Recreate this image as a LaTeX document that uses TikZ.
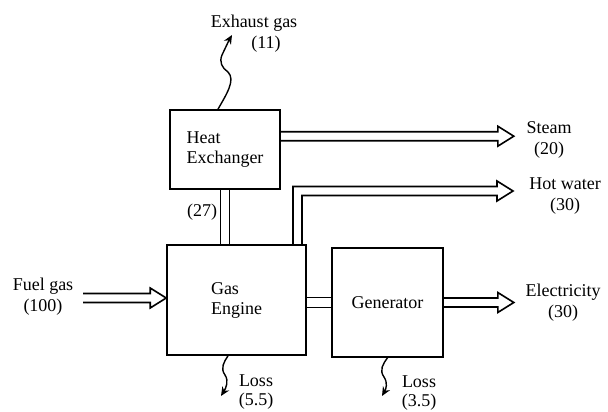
\documentclass[tikz,border=0pt]{standalone}
\usepackage{fontspec}
\setmainfont{Liberation Serif}
\usetikzlibrary{arrows.meta,calc}
\newcommand\myharrow[2]{\draw[pipe] let \p1=(#1),\p2=(#2) in (\x1,\y2+4.5pt) -- (\x2-16pt,\y2+4.5pt) -- (\x2-16pt,\y2+10pt) -- (\x2,\y2) -- (\x2-16pt,\y2-10pt) -- (\x2-16pt,\y2-4.5pt) -- (\x1,\y2-4.5pt);}
\begin{document}
\begin{tikzpicture}[x=1pt,y=-1pt,
  box/.style={draw, line width=1.6pt, inner sep=0pt, font=\fontsize{18}{20}\selectfont},
  lbl/.style={align=center, font=\fontsize{18}{21}\selectfont, inner sep=0pt},
  losslbl/.style={align=center, font=\fontsize{18}{19}\selectfont, inner sep=0pt},
  wavy/.style={line width=1.4pt, -{Stealth[length=9pt,width=8pt]}},
  pipe/.style={line width=1.6pt, line join=miter}]
\useasboundingbox (0,0) rectangle (608,412);

% boxes
\node[box, minimum width=110pt, minimum height=79pt, align=left] (hx) at (225,149.5) {Heat\\Exchanger};
\node[box, minimum width=139pt, minimum height=110pt, align=left] (ge) at (236.5,300) {Gas\\Engine};
\node[box, minimum width=111pt, minimum height=109pt] (gen) at (387.5,302.5) {Generator};

% labels
\node[lbl] (exl) at (254,34) {Exhaust gas\\\hspace*{24pt}(11)};
\node[lbl] (stl) at (549,140) {Steam\\(20)};
\node[lbl] (hwl) at (565,196) {Hot water\\(30)};
\node[lbl] (ell) at (563,303) {Electricity\\(30)};
\node[lbl] (ful) at (43,297) {Fuel gas\\(100)};
\node[losslbl] (l1) at (256,392) {Loss\\(5.5)};
\node[losslbl] (l2) at (419,393) {Loss\\(3.5)};
\node[lbl] (n27) at (202,212) {(27)};

% pipe HX - GE (27)
\coordinate (p1) at ($(hx.south)+(-4.5,0)$);
\coordinate (p2) at ($(hx.south)+(4.5,0)$);
\draw[pipe] (p1) -- (p1 |- ge.north);
\draw[pipe] (p2) -- (p2 |- ge.north);

% steam
\coordinate (st0) at ($(hx.north east)+(0,27)$);
\coordinate (sttip) at ($(st0)+(233,0)$);
\myharrow{st0}{sttip}

% hot water
\coordinate (hw0) at ($(ge.north)+(61,0)$);
\coordinate (hwtip) at (513,191);
\draw[pipe] let \p1=(hw0),\p2=(hwtip) in
  (\x1-4.5pt,\y1) -- (\x1-4.5pt,\y2+4.5pt) -- (\x2-16pt,\y2+4.5pt) -- (\x2-16pt,\y2+10pt) -- (\x2,\y2)
  -- (\x2-16pt,\y2-10pt) -- (\x2-16pt,\y2-4.5pt) -- (\x1+4.5pt,\y2-4.5pt) -- (\x1+4.5pt,\y1);

% shaft
\draw[pipe] let \p1=(ge.east),\p2=(gen.west) in
  (\x1,\y2+5pt) -- (\x2,\y2+5pt) (\x1,\y2-5pt) -- (\x2,\y2-5pt);

% electricity
\coordinate (eltip) at ($(gen.east)+(70,0)$);
\myharrow{gen.east}{eltip}

% fuel gas
\coordinate (fu0) at (83,298);
\myharrow{fu0}{ge.west |- fu0}

% exhaust
\coordinate (ex0) at ($(hx.north)+(-7,0)$);
\coordinate (extip) at (232,35);
\draw[wavy] (ex0) .. controls (226,95) and (236,80) .. (228,72) .. controls (222,68) and (219,62) .. (222,55) .. controls (225,47) .. (extip);

% losses
\coordinate (ls1) at ($(ge.south)+(-8.5,0)$);
\coordinate (lt1) at (221,396);
\draw[wavy] (ls1) .. controls (224,362) and (220,368) .. (225,375) .. controls (229,381) and (226,388) .. (lt1);
\coordinate (ls2) at (gen.south);
\coordinate (lt2) at (382,396);
\draw[wavy] (ls2) .. controls (383,364) and (379,370) .. (384,377) .. controls (388,383) and (386,389) .. (lt2);
\end{tikzpicture}
\end{document}
